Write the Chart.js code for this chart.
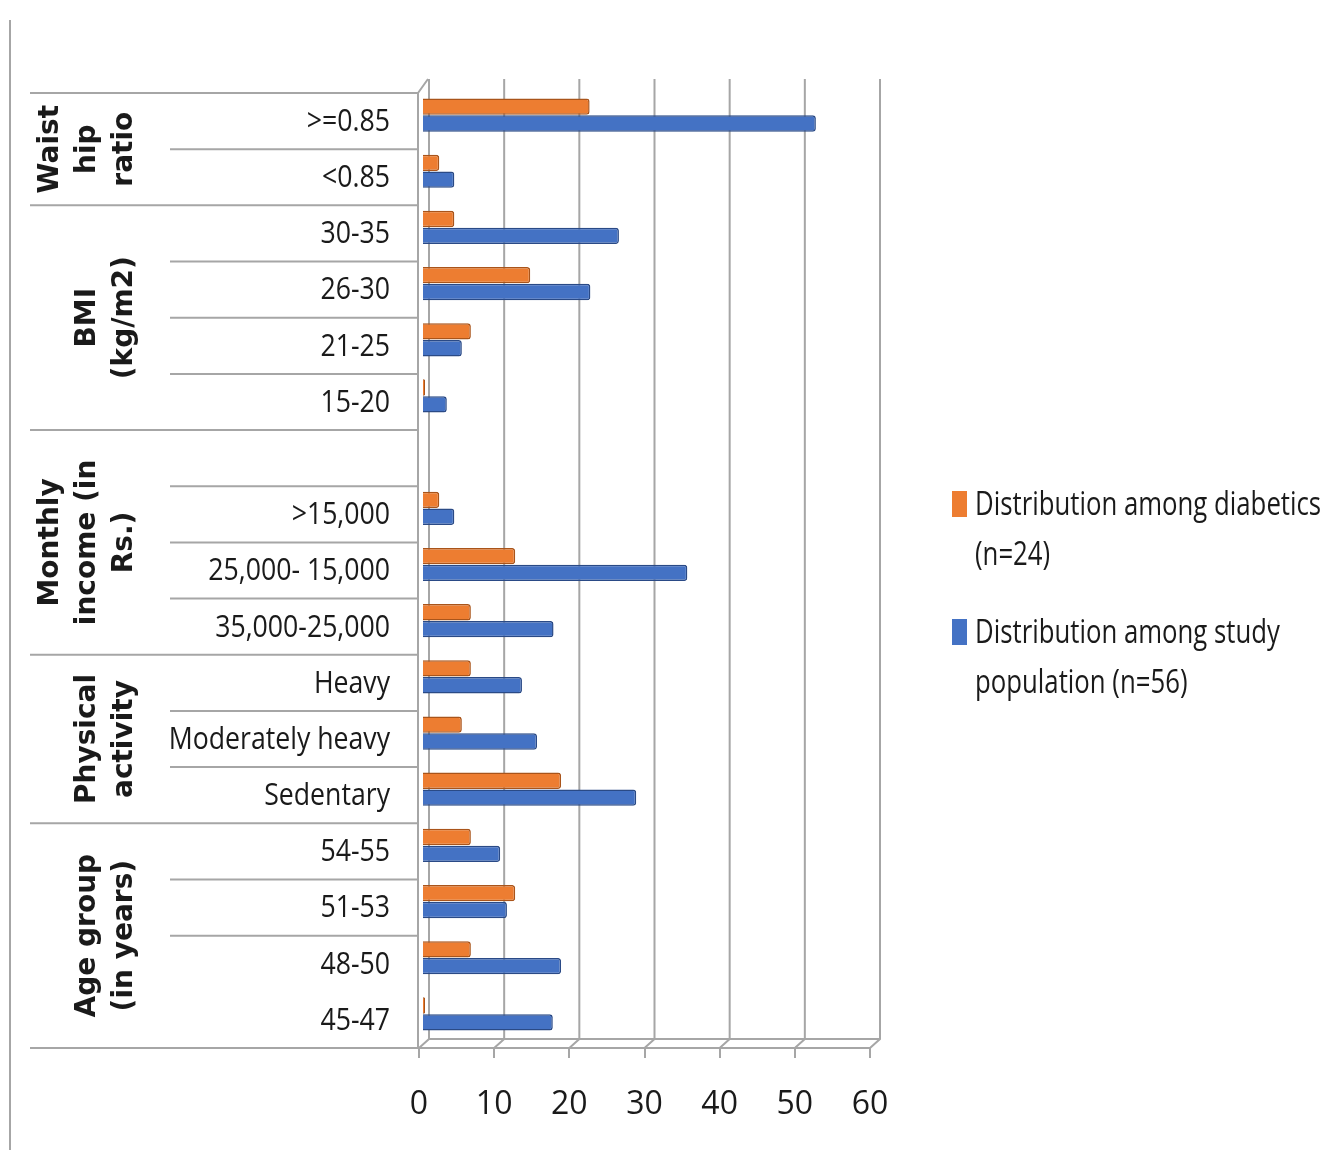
<!DOCTYPE html>
<html>
<head>
<meta charset="utf-8">
<script src="https://cdn.jsdelivr.net/npm/chart.js@4.4.1/dist/chart.umd.min.js"></script>
<style>
  body { margin: 0; background: #fff; }
  #wrap { position: relative; width: 1338px; height: 1167px; }
</style>
</head>
<body>
<div id="wrap"><canvas id="riskChart"></canvas></div>
<script>
// categories, top to bottom
const categories = ['>=0.85', '<0.85', '30-35', '26-30', '21-25', '15-20', '',
  '>15,000', '25,000- 15,000', '35,000-25,000', 'Heavy', 'Moderately heavy', 'Sedentary',
  '54-55', '51-53', '48-50', '45-47'];
const diabetics = [22.3, 2.3, 4.3, 14.4, 6.5, 0.4, null, 2.3, 12.4, 6.5, 6.5, 5.3, 18.5, 6.5, 12.4, 6.5, 0.4];
const studyPop  = [52.4, 4.3, 26.2, 22.4, 5.3, 3.3, null, 4.3, 35.3, 17.5, 13.3, 15.3, 28.5, 10.4, 11.3, 18.5, 17.4];
const xTicks = [0, 10, 20, 30, 40, 50, 60];

// row groups shown in the left column
const groupNames = [['Waist', 'hip', 'ratio'], ['BMI', '(kg/m2)'], ['Monthly', 'income (in', 'Rs.)'],
  ['Physical', 'activity'], ['Age group', '(in years)']];
const groupSizes = [2, 4, 4, 3, 4];
const legendLines = [['Distribution among diabetics', '(n=24)'], ['Distribution among study', 'population (n=56)']];

const ORANGE = '#ED7D31';
const BLUE = '#4472C4';
const LINE = '#a6a6a6';
const TEXT = '#1a1a1a';
const NARROW = "'Open Sans', 'DejaVu Sans Condensed', sans-serif";

// draw condensed text (the original uses a narrow font)
function narrowText(ctx, text, x, y, squeeze) {
  ctx.save();
  ctx.translate(x, y);
  ctx.scale(squeeze, 1);
  ctx.fillText(text, 0, 0);
  ctx.restore();
}

const decorations = {
  id: 'decorations',
  beforeDatasetsDraw(chart) {
    const ctx = chart.ctx;
    const x = chart.scales.x;
    const a = chart.chartArea;
    ctx.save();
    ctx.strokeStyle = LINE;
    ctx.lineWidth = 2;
    // back wall grid lines with a bit of depth
    xTicks.forEach(v => {
      const xf = x.getPixelForValue(v);
      ctx.beginPath();
      ctx.moveTo(xf + 10, a.top - 14);
      ctx.lineTo(xf + 10, a.bottom - 9);
      ctx.lineTo(xf, a.bottom);
      ctx.stroke();
    });
    ctx.beginPath();
    ctx.moveTo(x.getPixelForValue(0) + 10, a.bottom - 9);
    ctx.lineTo(x.getPixelForValue(60) + 10, a.bottom - 9);
    ctx.stroke();
    ctx.beginPath();
    ctx.moveTo(a.left - 1, a.bottom);
    ctx.lineTo(a.left - 1, a.top);
    ctx.lineTo(a.left + 9, a.top - 14);
    ctx.stroke();
    ctx.restore();
    // bars sit a little back in the 3D box
    ctx.save();
    ctx.translate(3, -6);
  },
  afterDatasetsDraw(chart) {
    chart.ctx.restore();
  },
  afterDraw(chart) {
    const ctx = chart.ctx;
    const y = chart.scales.y;
    const a = chart.chartArea;
    ctx.save();
    ctx.strokeStyle = LINE;
    ctx.lineWidth = 2;

    // page border on the left
    ctx.beginPath();
    ctx.moveTo(10, 20);
    ctx.lineTo(10, 1150);
    ctx.stroke();

    const step = y.getPixelForValue(1) - y.getPixelForValue(0);
    const edge = i => y.getPixelForValue(i) + step / 2;

    ctx.beginPath();
    ctx.moveTo(30, edge(-1)); ctx.lineTo(a.left, edge(-1));
    ctx.moveTo(30, edge(categories.length - 1)); ctx.lineTo(a.left, edge(categories.length - 1));
    ctx.stroke();

    // category labels
    ctx.fillStyle = TEXT;
    ctx.font = '31px ' + NARROW;
    ctx.textAlign = 'right';
    ctx.textBaseline = 'middle';
    categories.forEach((c, i) => narrowText(ctx, c, 390, y.getPixelForValue(i) + 1, 0.86));

    // group and category separators + group titles
    let start = 0;
    groupSizes.forEach((n, g) => {
      const end = start + n - 1;
      for (let i = start; i < end; i++) {
        if (i === 15) continue; // no rule between 48-50 and 45-47
        ctx.beginPath();
        ctx.moveTo(170, edge(i));
        ctx.lineTo(a.left, edge(i));
        ctx.stroke();
      }
      if (g < groupSizes.length - 1) {
        ctx.beginPath();
        ctx.moveTo(30, edge(end));
        ctx.lineTo(a.left, edge(end));
        ctx.stroke();
      }
      const cy = (edge(start - 1) + edge(end)) / 2;
      const lines = groupNames[g];
      ctx.save();
      ctx.fillStyle = TEXT;
      ctx.font = "bold 28px 'DejaVu Sans', sans-serif";
      ctx.textAlign = 'center';
      ctx.textBaseline = 'middle';
      lines.forEach((t, k) => {
        const lx = 125 - (lines.length - 1 - k) * 37;
        ctx.save();
        ctx.translate(lx, cy);
        ctx.rotate(-Math.PI / 2);
        ctx.fillText(t, 0, 0);
        ctx.restore();
      });
      ctx.restore();
      start = end + 1;
    });

    // legend
    const colors = [ORANGE, BLUE];
    const baseY = [515, 643];
    ctx.font = '32px ' + NARROW;
    ctx.textAlign = 'left';
    ctx.textBaseline = 'alphabetic';
    legendLines.forEach((lines, k) => {
      ctx.fillStyle = colors[k];
      ctx.fillRect(952, baseY[k] - 24, 15, 26);
      ctx.fillStyle = TEXT;
      lines.forEach((t, j) => narrowText(ctx, t, 975, baseY[k] + j * 50, 0.805));
    });
    ctx.restore();
  }
};

const ctx = document.getElementById('riskChart').getContext('2d');
const riskChart = new Chart(ctx, {
  type: 'bar',
  data: {
    labels: categories,
    datasets: [{
      label: 'Distribution among diabetics (n=24)',
      data: diabetics,
      backgroundColor: ORANGE,
      borderColor: '#a9541a',
      borderWidth: 1.5,
      borderRadius: { topRight: 3, bottomRight: 3 },
      borderSkipped: 'start'
    }, {
      label: 'Distribution among study population (n=56)',
      data: studyPop,
      backgroundColor: BLUE,
      borderColor: '#2a4a86',
      borderWidth: 1.5,
      borderRadius: { topRight: 3, bottomRight: 3 },
      borderSkipped: 'start'
    }]
  },
  options: {
    indexAxis: 'y',
    responsive: true,
    maintainAspectRatio: false,
    animation: false,
    layout: { padding: { left: 30, right: 468, top: 93, bottom: 39 } },
    categoryPercentage: 0.6,
    barPercentage: 0.97,
    plugins: {
      legend: { display: false },
      tooltip: { enabled: false }
    },
    scales: {
      x: {
        min: 0,
        max: 60,
        afterBuildTicks: scale => { scale.ticks = xTicks.map(v => ({ value: v })); },
        afterFit: scale => { scale.height = 80; },
        grid: { drawOnChartArea: false, drawTicks: true, tickLength: 10, color: LINE, lineWidth: 2 },
        border: { display: true, color: LINE, width: 2 },
        ticks: { font: { family: NARROW, size: 32 }, color: TEXT, padding: 28 }
      },
      y: {
        afterFit: scale => { scale.width = 389; },
        grid: { display: false },
        border: { display: false },
        ticks: { display: false }
      }
    }
  },
  plugins: [decorations]
});
</script>
</body>
</html>
